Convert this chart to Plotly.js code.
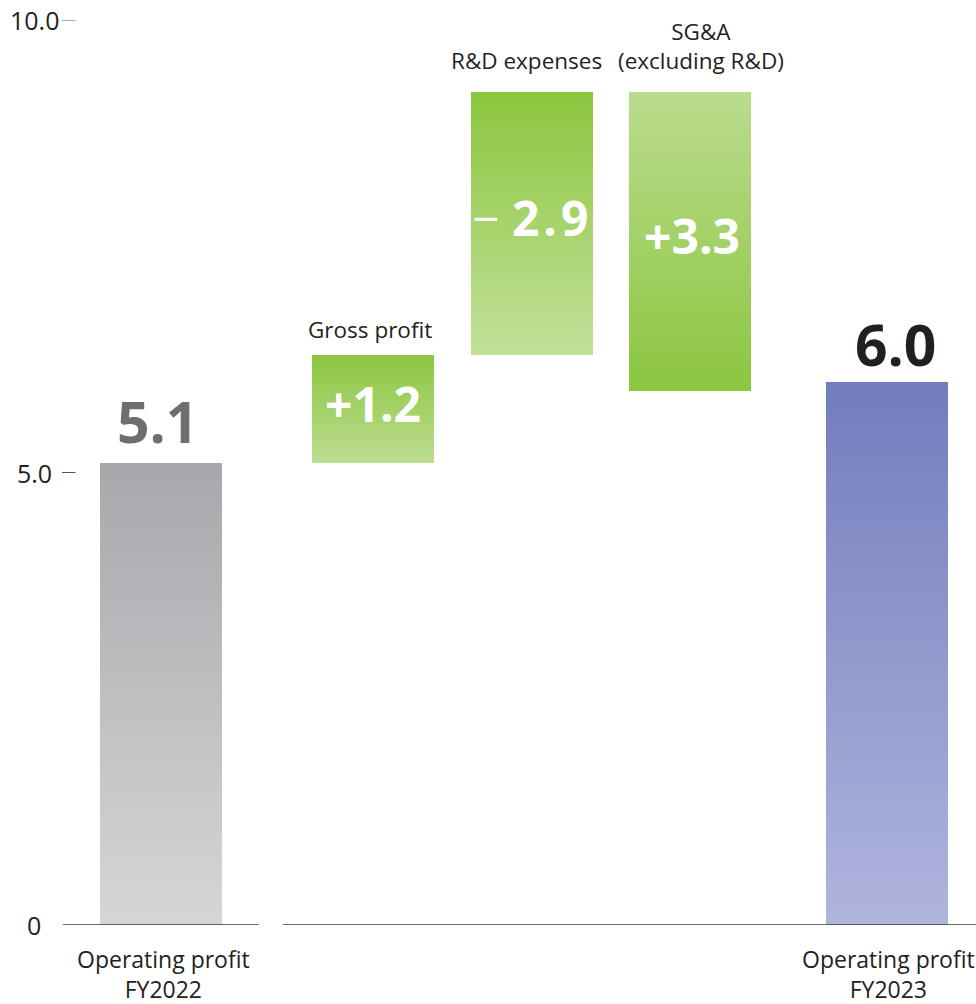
<!DOCTYPE html>
<html>
<head>
<meta charset="utf-8">
<script src="https://cdn.plot.ly/plotly-3.0.1.min.js"></script>
<style>
  html, body { margin: 0; padding: 0; background: #ffffff; }
  #chart { width: 976px; height: 1004px; }
</style>
</head>
<body>
<div id="chart"></div>
<script>
// Operating profit bridge, FY2022 -> FY2023
const categories = ['Operating profit<br>FY2022', 'Gross profit', 'R&D expenses', 'SG&A<br>(excluding R&D)', 'Operating profit<br>FY2023'];
const startValue = 5.1;
const endValue = 6.0;
const stepMoves = [1.2, 2.9, -3.3];          // how far each bridge bar moves along the axis
const stepLabels = ['+1.2', '−2.9', '+3.3'];  // impact printed inside the bridge bars
const yTickVals = [0, 5, 10];
const yTickText = ['0', '5.0', '10.0'];

// ---- layout constants ----
const slotX = [0, 1.3375, 2.341, 3.3375, 4.58];
const barWidth = 0.77;
const dark = '#231f20';
const FONT = 'Open Sans, Noto Sans, sans-serif';

// vertical gradients (top colour, bottom colour) per bar
const gradients = [
  ['#a7a8ab', '#d5d6d8'],
  ['#8cc63f', '#bddd92'],
  ['#8cc63f', '#c1e09a'],
  ['#badb8e', '#8cc63f'],
  ['#727dbd', '#b0b5dd']
];

// bases and lengths of the bars
const bases = [0];
const lengths = [startValue];
let level = startValue;
stepMoves.forEach(m => { bases.push(level); lengths.push(m); level += m; });
bases.push(0);
lengths.push(endValue);

const trace = {
  type: 'bar',
  x: slotX,
  y: lengths,
  base: bases,
  width: barWidth,
  marker: { color: gradients.map(g => g[0]), line: { width: 0 } },
  hoverinfo: 'skip',
  showlegend: false
};

const annotations = [];

// y tick labels
yTickVals.forEach((v, i) => {
  annotations.push({
    x: -0.8, y: v, xref: 'x', yref: 'y', text: yTickText[i], showarrow: false,
    xanchor: 'center', yanchor: 'middle', font: { family: FONT, size: 25, color: dark }
  });
});

// totals above the first and last bars
annotations.push({
  x: slotX[0], y: startValue, xref: 'x', yref: 'y', text: '<b>' + startValue.toFixed(1) + '</b>',
  showarrow: false, xanchor: 'center', yanchor: 'bottom', yshift: 1, xshift: -4,
  font: { family: FONT, size: 57, color: '#6d6e71' }
});
annotations.push({
  x: slotX[4], y: endValue, xref: 'x', yref: 'y', text: '<b>' + endValue.toFixed(1) + '</b>',
  showarrow: false, xanchor: 'center', yanchor: 'bottom', yshift: -3, xshift: 9,
  font: { family: FONT, size: 57, color: dark }
});

// impacts inside the bridge bars
stepLabels.forEach((t, i) => {
  const k = i + 1;
  let txt = '<b>' + t + '</b>';
  if (t.charAt(0) === '−') {
    txt = '<span style="font-weight:400">−</span> <b><span style="letter-spacing:4px">' + t.slice(1) + '</span></b>';
  }
  annotations.push({
    x: slotX[k], y: bases[k] + lengths[k] / 2, xref: 'x', yref: 'y', text: txt,
    showarrow: false, xanchor: 'center', yanchor: 'middle', yshift: 6, xshift: k === 3 ? 2 : 0,
    font: { family: FONT, size: 48, color: '#ffffff' }
  });
});

// item names above the bridge bars
[1, 2, 3].forEach(k => {
  const top = Math.max(bases[k], bases[k] + lengths[k]);
  annotations.push({
    x: slotX[k], y: top, xref: 'x', yref: 'y', text: categories[k],
    showarrow: false, xanchor: 'center', yanchor: 'bottom',
    yshift: k === 1 ? 8 : 14, xshift: k === 3 ? 11 : (k === 2 ? -6 : -3),
    font: { family: FONT, size: 22.5, color: dark }
  });
});

// names under the total bars
[0, 4].forEach(k => {
  annotations.push({
    x: slotX[k], y: 0, xref: 'x', yref: 'y', text: categories[k],
    showarrow: false, xanchor: 'center', yanchor: 'top', yshift: -16, xshift: 2,
    font: { family: FONT, size: 23, color: dark }
  });
});

// baseline (broken after the first bar) and short tick dashes
const shapes = [
  { type: 'line', xref: 'x', yref: 'y', x0: -0.618, x1: 0.618, y0: 0, y1: 0, line: { color: '#3a3a3a', width: 1.3 } },
  { type: 'line', xref: 'x', yref: 'y', x0: 0.77, x1: 5.2, y0: 0, y1: 0, line: { color: '#3a3a3a', width: 1.3 } }
];
yTickVals.filter(v => v > 0).forEach(v => {
  shapes.push({ type: 'line', xref: 'x', yref: 'y', x0: -0.625, x1: -0.54, y0: v, y1: v, line: { color: '#555555', width: 1 } });
});

const layout = {
  width: 976, height: 1004,
  margin: { l: 0, r: 0, t: 20, b: 79 },
  paper_bgcolor: '#ffffff', plot_bgcolor: 'rgba(0,0,0,0)',
  font: { family: FONT, color: dark },
  xaxis: { range: [-161 / 158.5, (976 - 161) / 158.5], visible: false, fixedrange: true },
  yaxis: { range: [0, 10], visible: false, fixedrange: true },
  bargap: 0,
  annotations: annotations,
  shapes: shapes
};

Plotly.newPlot('chart', [trace], layout, { displayModeBar: false, staticPlot: true }).then(gd => {
  // paint each bar with its vertical gradient
  const svg = gd.querySelector('svg.main-svg');
  const ns = 'http://www.w3.org/2000/svg';
  let defs = svg.querySelector('defs');
  if (!defs) { defs = document.createElementNS(ns, 'defs'); svg.insertBefore(defs, svg.firstChild); }
  gradients.forEach((g, i) => {
    const lg = document.createElementNS(ns, 'linearGradient');
    lg.setAttribute('id', 'barGrad' + i);
    lg.setAttribute('x1', '0'); lg.setAttribute('y1', '0');
    lg.setAttribute('x2', '0'); lg.setAttribute('y2', '1');
    [[0, g[0]], [1, g[1]]].forEach(([off, col]) => {
      const s = document.createElementNS(ns, 'stop');
      s.setAttribute('offset', off);
      s.setAttribute('stop-color', col);
      lg.appendChild(s);
    });
    defs.appendChild(lg);
  });
  gd.querySelectorAll('.trace.bars .point path').forEach((p, i) => {
    p.style.fill = 'url(#barGrad' + i + ')';
  });
});
</script>
</body>
</html>
